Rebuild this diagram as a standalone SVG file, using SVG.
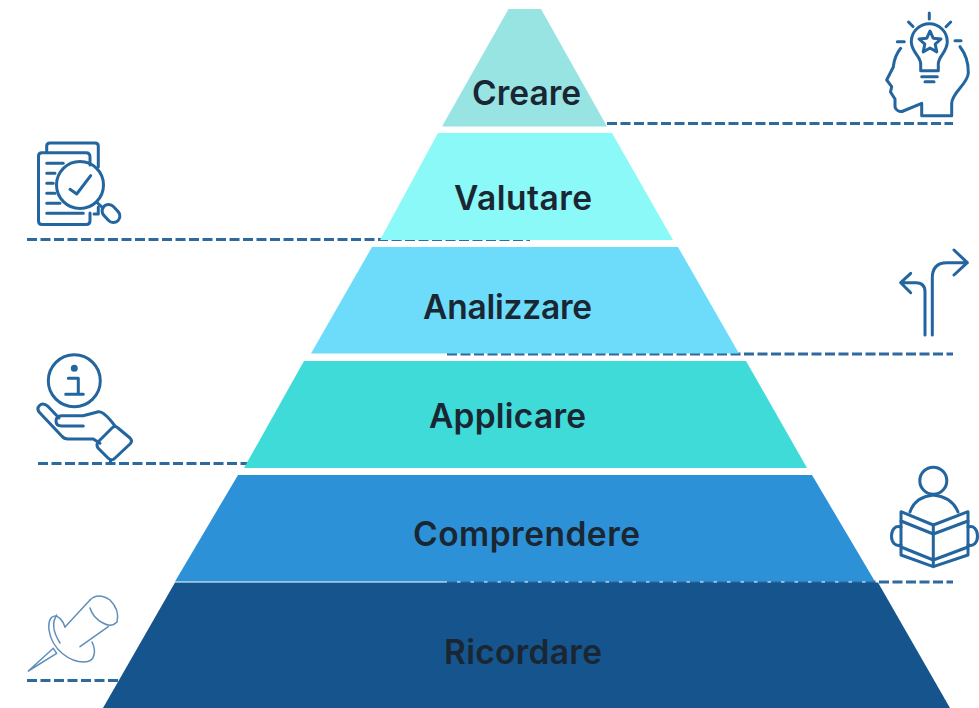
<svg xmlns="http://www.w3.org/2000/svg" width="979" height="708" viewBox="0 0 979 708">
<style>
.c{fill:none;stroke:#2f6a9f;stroke-width:3;stroke-dasharray:10 3.5}
.i{fill:none;stroke:#23659f;stroke-width:3;stroke-linecap:round;stroke-linejoin:round}
.p{fill:none;stroke:#5d8fba;stroke-width:1.5;stroke-linecap:round;stroke-linejoin:round}
.t{font-family:"Inter","Liberation Sans",sans-serif;font-weight:600;font-size:33.5px;fill:#1a2733;text-anchor:middle}
</style>
<rect width="979" height="708" fill="#fff"/>
<g id="connectors">
<path class="c" d="M607 123.5H953"/>
<path class="c" d="M27 239.5H530"/>
<path class="c" d="M447 354H953"/>
<path class="c" d="M38 463.5H250"/>
<path class="c" d="M447 582H953"/>
<path class="c" d="M27 680.5H120"/>
</g>
<g id="creare">
<polygon points="508.5,9 541,9 607,126.5 442,126.5" fill="#98e4e3"/>
<text class="t" x="526.5" y="105" textLength="109">Creare</text>
<g class="i">
<path d="M920.7 64C920.7 56 911.3 52 911.3 41.7A18 18 0 0 1 947.3 41.7C947.3 52 938.3 56 938.3 64V70.7H920.7Z"/>
<path d="M921.7 76.7H937.3M925 81.7H934M929.3 13V19M908.5 22L913 26.5M950.7 22L946 26.7M897.3 41.7H904.3M955 40.7H961"/>
<path d="M930 31L933.2 38.2L941 39L935.2 44.2L936.8 51.9L930 48L923.2 51.9L924.8 44.2L919 39L926.8 38.2Z"/>
<path d="M900.7 48.3C896 54 894 60 893.3 67L886.7 80L891.7 86.7L890.5 92L895 99L895 107C896 110 899 112 902 111.5L921.7 103.3V115.7H951.7V103.3C952 92 968 84 968.3 73C968.5 63 965 53 960 46.7"/>
</g>
</g>
<g id="valutare">
<polygon points="438,133 612,133 673,240 380,240" fill="#8bf9f7"/>
<text class="t" x="523" y="210" textLength="138">Valutare</text>
<g class="i">
<path d="M90 165V157Q90 152.7 86 152.7H42Q38.5 152.7 38.5 156V221Q38.5 224.5 42 224.5H86Q90 224.5 90 221V213"/>
<path d="M46.7 151V146Q46.7 143 50 143H95Q98.3 143 98.3 146V167M98.3 207V214H94"/>
<path d="M46.7 163.3H63.3M46.7 173.3H55M46.7 183.3H53.3M46.7 193.3H55M46.7 203.3H60M46.7 213.3H83.3"/>
<circle cx="80" cy="185" r="23.5"/>
<path d="M70 189.3L76.7 194L90.7 175.7M97 202.5L103 208"/>
<rect x="101" y="207" width="20" height="13" rx="6.5" transform="rotate(47 111 213.5)"/>
</g>
</g>
<g id="analizzare">
<polygon points="372,247 678,247 739,353.5 311,353.5" fill="#6ddcfa"/>
<text class="t" x="507.5" y="319" textLength="169">Analizzare</text>
<g class="i">
<path d="M932.3 335V278Q932.3 262.7 947 262.7H967.3M954 250L967.3 262.7L954 275"/>
<path d="M925 335V292Q925 282.7 916 282.7H900.7M910.7 273.3L900.7 282.7L910.7 292.7"/>
</g>
</g>
<g id="applicare">
<polygon points="304,361 746,361 807,468 244,468" fill="#3edbd8"/>
<text class="t" x="507.5" y="428" textLength="157">Applicare</text>
<g class="i">
<circle cx="74.3" cy="380.7" r="26"/>
<circle cx="74.3" cy="368.3" r="2" fill="#23659f"/>
<path d="M68.3 378.3H78.3V394.3M65.7 394.3H83.3"/>
<path d="M83.3 426H61.7Q56 426 56 421Q56 416 61.7 415.7H83Q90 414 98.3 411.7Q104 411 115 426"/>
<path d="M59 418L48.3 406.7Q43 402 39.5 405.5Q36 409 40 413L61.7 436Q64 439 68 439H93.3L100 443.3"/>
<path d="M118 428L130 438Q133 441 130 444L114 459Q111 461 108 458L98 448Q96 445 98 442L112 428Q115 425 118 428ZM110.5 460V463"/>
</g>
</g>
<g id="comprendere">
<polygon points="238,475 812,475 875,581.5 175,581.5" fill="#2d91d7"/>
<text class="t" x="526.5" y="546" textLength="227">Comprendere</text>
<g class="i">
<circle cx="933.3" cy="480.7" r="13.5"/>
<path d="M910 512Q915 497 933.3 495Q952 497 958 512"/>
<path d="M901 511.7L933.3 525L968 511.7V547L933.3 560L901 547Z"/>
<path d="M901 521L933.3 534L968 521M933.3 525V566.7M901 547V555L933.3 566.7L968 555V547"/>
<path d="M901 527C895 525 891.5 530 891.5 536C891.5 542 895 547 901 545M968 527C974 525 977.5 530 977.5 536C977.5 542 974 547 968 545"/>
</g>
</g>
<g id="ricordare">
<polygon points="175,582.5 878,582.5 950,708 103,708" fill="#15548c"/>
<text class="t" x="523" y="664" textLength="158">Ricordare</text>
<g class="p">
<path d="M28.3 671L53.3 648.3L56.7 653.3Z"/>
<path d="M90 600Q98 592 110 600Q120 610 117 622Q111 628 103 623Q93 618 90 608"/>
<path d="M65 627L90 600M80 646.7L108.3 626.7"/>
<path d="M65 627C60 612 47 612 49 630C52 650 70 662 84 662C96 662 96 650 92 642"/>
<path d="M56.7 615C52 622 53 632 60 643"/>
</g>
</g>
</svg>
